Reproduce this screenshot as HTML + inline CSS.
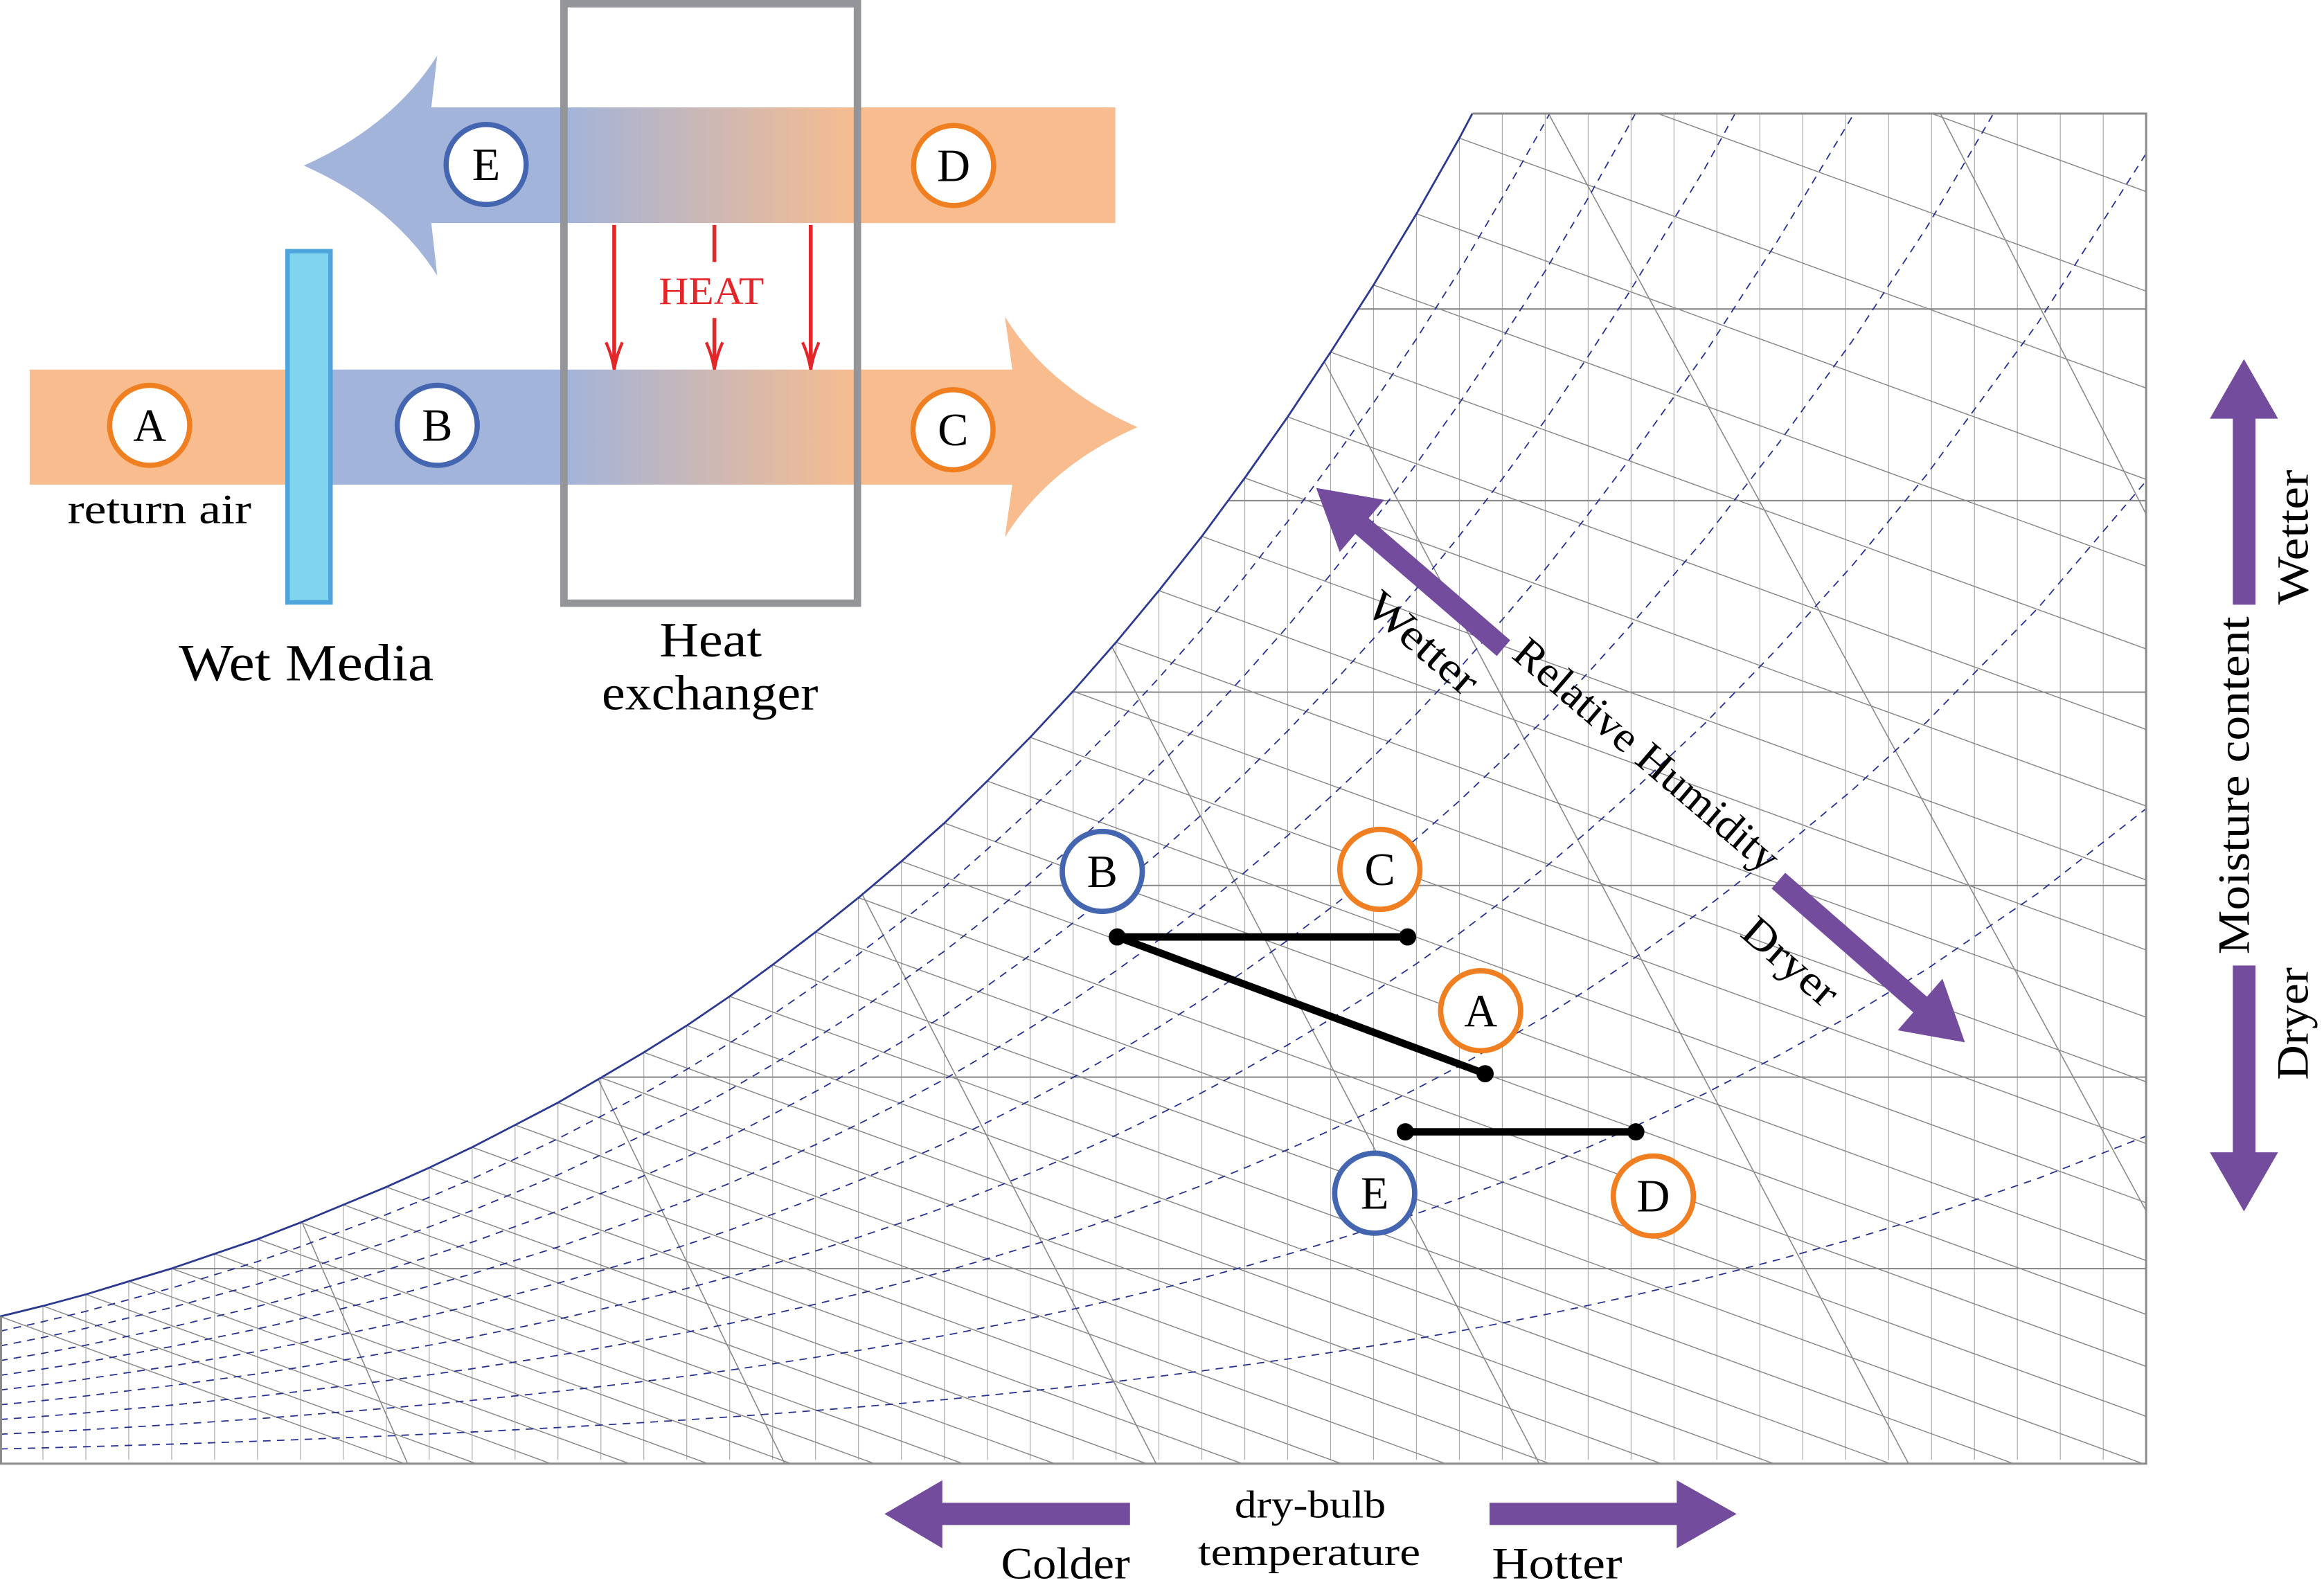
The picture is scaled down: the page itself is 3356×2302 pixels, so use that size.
<!DOCTYPE html>
<html><head><meta charset="utf-8"><style>
html,body{margin:0;padding:0;background:#fff;width:3356px;height:2302px;overflow:hidden;}
svg{display:block;}
text{font-family:"Liberation Serif",serif;fill:#000;}
.rh{fill:none;stroke:#26308f;stroke-width:1.8;stroke-dasharray:11 9;}
</style></head><body>
<svg xmlns="http://www.w3.org/2000/svg" width="3356" height="2302" viewBox="0 0 1568 1075.55" overflow="hidden">
<defs>
<linearGradient id="g1" gradientUnits="userSpaceOnUse" x1="380" y1="0" x2="580" y2="0">
<stop offset="0" stop-color="#a2b4da"/><stop offset="1" stop-color="#f8bc8e"/>
</linearGradient>
<clipPath id="cp"><polygon points="0,888.3 28.96,881.2 57.92,873.4 86.88,864.6 115.84,855.9 144.8,846 173.76,836.1 202.72,824.9 231.68,812.9 260.64,800.9 289.6,787.9 318.56,774.1 347.52,759.1 376.48,744 405.44,727.2 434.4,710.1 463.36,692 492.32,672.3 521.28,651 550.24,628.9 579.2,605.7 608.16,581.2 637.12,555.4 666.08,527 695.04,497.5 724,466.4 752.96,433.4 781.92,398.5 810.88,361.9 839.84,322.5 868.8,281.3 897.76,237.6 926.72,192.3 955.68,144.3 984.64,93.2 993.4,76.6 1448,76.6 1448,987.6 0,987.6"/></clipPath>
</defs>
<rect x="0" y="0" width="1568" height="1075.55" fill="#fff"/>

<!-- ===== Top diagram ===== -->
<path d="M752.5 72.5H291L295 37.5Q265 85 205 111.7Q265 138.5 295 186L291 150.5H752.5Z" fill="url(#g1)"/>
<rect x="20" y="249.4" width="190" height="77.6" fill="#f8bc8e"/>
<path d="M208 249.4H683L678 213.7Q708 262 767.5 288.2Q708 314.5 678 362.5L683 327H208Z" fill="url(#g1)"/>
<rect x="194" y="169.5" width="29" height="237" fill="#81d4f0" stroke="#4ea5dc" stroke-width="3"/>
<rect x="380.5" y="2.5" width="198" height="404.5" fill="none" stroke="#939598" stroke-width="5"/>

<g stroke="#e52629" stroke-width="2.6" fill="none">
<path d="M414.4 151.8V248M482 151.8V176.8M482 214.6V248M547 151.8V248"/>
<path d="M408.9 231Q412.9 240 414.4 249.4Q415.9 240 419.9 231" stroke-width="2"/>
<path d="M476.5 231Q480.5 240 482 249.4Q483.5 240 487.5 231" stroke-width="2"/>
<path d="M541.5 231Q545.5 240 547 249.4Q548.5 240 552.5 231" stroke-width="2"/>
</g>
<text x="480" y="205" font-size="26" text-anchor="middle" textLength="71" lengthAdjust="spacingAndGlyphs" style="fill:#e52629">HEAT</text>

<g stroke-width="3.5" fill="#fff">
<circle cx="101" cy="287" r="27" stroke="#f07f22"/>
<circle cx="295" cy="287" r="27" stroke="#4465b0"/>
<circle cx="643" cy="290" r="27" stroke="#f07f22"/>
<circle cx="328" cy="111" r="27" stroke="#4465b0"/>
<circle cx="643.4" cy="111.7" r="27" stroke="#f07f22"/>
</g>
<g font-size="31" text-anchor="middle">
<text x="101" y="297.5">A</text>
<text x="295" y="297.5">B</text>
<text x="643" y="300.5">C</text>
<text x="328" y="121.5">E</text>
<text x="643.4" y="122.2">D</text>
</g>

<text x="45.6" y="353" font-size="28" textLength="124" lengthAdjust="spacingAndGlyphs">return air</text>
<text x="120.6" y="459" font-size="35" textLength="172" lengthAdjust="spacingAndGlyphs">Wet Media</text>
<text x="479.5" y="443" font-size="33" text-anchor="middle" textLength="69" lengthAdjust="spacingAndGlyphs">Heat</text>
<text x="479" y="478.7" font-size="33" text-anchor="middle" textLength="146" lengthAdjust="spacingAndGlyphs">exchanger</text>

<!-- ===== Chart ===== -->
<g clip-path="url(#cp)" fill="none">
<path stroke="#aaaaaa" stroke-width="0.55" d="M28.96 60V985M57.92 60V985M86.88 60V985M115.84 60V985M144.8 60V985M173.76 60V985M202.72 60V985M231.68 60V985M260.64 60V985M289.6 60V985M318.56 60V985M347.52 60V985M376.48 60V985M405.44 60V985M434.4 60V985M463.36 60V985M492.32 60V985M521.28 60V985M550.24 60V985M579.2 60V985M608.16 60V985M637.12 60V985M666.08 60V985M695.04 60V985M724 60V985M752.96 60V985M781.92 60V985M810.88 60V985M839.84 60V985M868.8 60V985M897.76 60V985M926.72 60V985M955.68 60V985M984.64 60V985M1013.6 60V985M1042.56 60V985M1071.52 60V985M1100.48 60V985M1129.44 60V985M1158.4 60V985M1187.36 60V985M1216.32 60V985M1245.28 60V985M1274.24 60V985M1303.2 60V985M1332.16 60V985M1361.12 60V985M1390.08 60V985M1419.04 60V985"/>
<path stroke="#8c8c8c" stroke-width="1" d="M0 208.5H1448M0 337.8H1448M0 467H1448M0 597.5H1448M0 726.8H1448M0 856H1448"/>
<path stroke="#8a8a8a" stroke-width="0.7" d="M0 888.3l284.9 103.7M28.96 881.2l304.4 110.8M57.92 873.4l325.8 118.6M86.88 864.6l350 127.4M115.84 855.9l373.9 136.1M144.8 846l401.1 146M173.76 836.1l428.3 155.9M202.72 824.9l459.1 167.1M231.68 812.9l492 179.1M260.64 800.9l525 191.1M289.6 787.9l560.7 204.1M318.56 774.1l598.6 217.9M347.52 759.1l639.8 232.9M376.48 744l681.3 248M405.44 727.2l727.5 264.8M434.4 710.1l774.5 281.9M463.36 692l824.2 300M492.32 672.3l878.3 319.7M521.28 651l928.72 338.1M550.24 628.9l899.76 327.5M579.2 605.7l870.8 317M608.16 581.2l841.84 306.4M637.12 555.4l812.88 295.9M666.08 527l783.92 285.3M695.04 497.5l754.96 274.8M724 466.4l726 264.3M752.96 433.4l697.04 253.7M781.92 398.5l668.08 243.2M810.88 361.9l639.12 232.6M839.84 322.5l610.16 222.1M868.8 281.3l581.2 211.6M897.76 237.6l552.24 201M926.72 192.3l523.28 190.5M955.68 144.3l494.32 179.9M984.64 93.2l465.36 169.4M1013.6 38.4l436.4 158.8M1042.56 -18.3l407.44 148.3"/>
<path stroke="#8a8a8a" stroke-width="0.75" d="M203.7 824.5L276.5 991M403.8 728.6L531.1 991M582 604L781.8 991M750 436L1040.3 991M893.5 244L1289.5 991M1035.7 60L1448 817M1300.7 60L1448 347"/>
<g>
<path class="rh" vector-effect="non-scaling-stroke" transform="matrix(1 0 0 0.1 0 888.84)" d="M0 888.3L28.96 881.2 57.92 873.4 86.88 864.6 115.84 855.9 144.8 846 173.76 836.1 202.72 824.9 231.68 812.9 260.64 800.9 289.6 787.9 318.56 774.1 347.52 759.1 376.48 744 405.44 727.2 434.4 710.1 463.36 692 492.32 672.3 521.28 651 550.24 628.9 579.2 605.7 608.16 581.2 637.12 555.4 666.08 527 695.04 497.5 724 466.4 752.96 433.4 781.92 398.5 810.88 361.9 839.84 322.5 868.8 281.3 897.76 237.6 926.72 192.3 955.68 144.3 984.64 93.2 1013.6 38.4 1042.56 -18.3 1071.5 -79.8 1100 -143.2 1150 -260.3 1200 -389.4 1250 -528.2 1300 -680.9 1375 -936.8 1448 -1222.4"/>
<path class="rh" vector-effect="non-scaling-stroke" transform="matrix(1 0 0 0.2 0 790.08)" d="M0 888.3L28.96 881.2 57.92 873.4 86.88 864.6 115.84 855.9 144.8 846 173.76 836.1 202.72 824.9 231.68 812.9 260.64 800.9 289.6 787.9 318.56 774.1 347.52 759.1 376.48 744 405.44 727.2 434.4 710.1 463.36 692 492.32 672.3 521.28 651 550.24 628.9 579.2 605.7 608.16 581.2 637.12 555.4 666.08 527 695.04 497.5 724 466.4 752.96 433.4 781.92 398.5 810.88 361.9 839.84 322.5 868.8 281.3 897.76 237.6 926.72 192.3 955.68 144.3 984.64 93.2 1013.6 38.4 1042.56 -18.3 1071.5 -79.8 1100 -143.2 1150 -260.3 1200 -389.4 1250 -528.2 1300 -680.9 1375 -936.8 1448 -1222.4"/>
<path class="rh" vector-effect="non-scaling-stroke" transform="matrix(1 0 0 0.3 0 691.32)" d="M0 888.3L28.96 881.2 57.92 873.4 86.88 864.6 115.84 855.9 144.8 846 173.76 836.1 202.72 824.9 231.68 812.9 260.64 800.9 289.6 787.9 318.56 774.1 347.52 759.1 376.48 744 405.44 727.2 434.4 710.1 463.36 692 492.32 672.3 521.28 651 550.24 628.9 579.2 605.7 608.16 581.2 637.12 555.4 666.08 527 695.04 497.5 724 466.4 752.96 433.4 781.92 398.5 810.88 361.9 839.84 322.5 868.8 281.3 897.76 237.6 926.72 192.3 955.68 144.3 984.64 93.2 1013.6 38.4 1042.56 -18.3 1071.5 -79.8 1100 -143.2 1150 -260.3 1200 -389.4 1250 -528.2 1300 -680.9 1375 -936.8 1448 -1222.4"/>
<path class="rh" vector-effect="non-scaling-stroke" transform="matrix(1 0 0 0.4 0 592.56)" d="M0 888.3L28.96 881.2 57.92 873.4 86.88 864.6 115.84 855.9 144.8 846 173.76 836.1 202.72 824.9 231.68 812.9 260.64 800.9 289.6 787.9 318.56 774.1 347.52 759.1 376.48 744 405.44 727.2 434.4 710.1 463.36 692 492.32 672.3 521.28 651 550.24 628.9 579.2 605.7 608.16 581.2 637.12 555.4 666.08 527 695.04 497.5 724 466.4 752.96 433.4 781.92 398.5 810.88 361.9 839.84 322.5 868.8 281.3 897.76 237.6 926.72 192.3 955.68 144.3 984.64 93.2 1013.6 38.4 1042.56 -18.3 1071.5 -79.8 1100 -143.2 1150 -260.3 1200 -389.4 1250 -528.2 1300 -680.9 1375 -936.8 1448 -1222.4"/>
<path class="rh" vector-effect="non-scaling-stroke" transform="matrix(1 0 0 0.5 0 493.8)" d="M0 888.3L28.96 881.2 57.92 873.4 86.88 864.6 115.84 855.9 144.8 846 173.76 836.1 202.72 824.9 231.68 812.9 260.64 800.9 289.6 787.9 318.56 774.1 347.52 759.1 376.48 744 405.44 727.2 434.4 710.1 463.36 692 492.32 672.3 521.28 651 550.24 628.9 579.2 605.7 608.16 581.2 637.12 555.4 666.08 527 695.04 497.5 724 466.4 752.96 433.4 781.92 398.5 810.88 361.9 839.84 322.5 868.8 281.3 897.76 237.6 926.72 192.3 955.68 144.3 984.64 93.2 1013.6 38.4 1042.56 -18.3 1071.5 -79.8 1100 -143.2 1150 -260.3 1200 -389.4 1250 -528.2 1300 -680.9 1375 -936.8 1448 -1222.4"/>
<path class="rh" vector-effect="non-scaling-stroke" transform="matrix(1 0 0 0.6 0 395.04)" d="M0 888.3L28.96 881.2 57.92 873.4 86.88 864.6 115.84 855.9 144.8 846 173.76 836.1 202.72 824.9 231.68 812.9 260.64 800.9 289.6 787.9 318.56 774.1 347.52 759.1 376.48 744 405.44 727.2 434.4 710.1 463.36 692 492.32 672.3 521.28 651 550.24 628.9 579.2 605.7 608.16 581.2 637.12 555.4 666.08 527 695.04 497.5 724 466.4 752.96 433.4 781.92 398.5 810.88 361.9 839.84 322.5 868.8 281.3 897.76 237.6 926.72 192.3 955.68 144.3 984.64 93.2 1013.6 38.4 1042.56 -18.3 1071.5 -79.8 1100 -143.2 1150 -260.3 1200 -389.4 1250 -528.2 1300 -680.9 1375 -936.8 1448 -1222.4"/>
<path class="rh" vector-effect="non-scaling-stroke" transform="matrix(1 0 0 0.7 0 296.28)" d="M0 888.3L28.96 881.2 57.92 873.4 86.88 864.6 115.84 855.9 144.8 846 173.76 836.1 202.72 824.9 231.68 812.9 260.64 800.9 289.6 787.9 318.56 774.1 347.52 759.1 376.48 744 405.44 727.2 434.4 710.1 463.36 692 492.32 672.3 521.28 651 550.24 628.9 579.2 605.7 608.16 581.2 637.12 555.4 666.08 527 695.04 497.5 724 466.4 752.96 433.4 781.92 398.5 810.88 361.9 839.84 322.5 868.8 281.3 897.76 237.6 926.72 192.3 955.68 144.3 984.64 93.2 1013.6 38.4 1042.56 -18.3 1071.5 -79.8 1100 -143.2 1150 -260.3 1200 -389.4 1250 -528.2 1300 -680.9 1375 -936.8 1448 -1222.4"/>
<path class="rh" vector-effect="non-scaling-stroke" transform="matrix(1 0 0 0.8 0 197.52)" d="M0 888.3L28.96 881.2 57.92 873.4 86.88 864.6 115.84 855.9 144.8 846 173.76 836.1 202.72 824.9 231.68 812.9 260.64 800.9 289.6 787.9 318.56 774.1 347.52 759.1 376.48 744 405.44 727.2 434.4 710.1 463.36 692 492.32 672.3 521.28 651 550.24 628.9 579.2 605.7 608.16 581.2 637.12 555.4 666.08 527 695.04 497.5 724 466.4 752.96 433.4 781.92 398.5 810.88 361.9 839.84 322.5 868.8 281.3 897.76 237.6 926.72 192.3 955.68 144.3 984.64 93.2 1013.6 38.4 1042.56 -18.3 1071.5 -79.8 1100 -143.2 1150 -260.3 1200 -389.4 1250 -528.2 1300 -680.9 1375 -936.8 1448 -1222.4"/>
<path class="rh" vector-effect="non-scaling-stroke" transform="matrix(1 0 0 0.9 0 98.76)" d="M0 888.3L28.96 881.2 57.92 873.4 86.88 864.6 115.84 855.9 144.8 846 173.76 836.1 202.72 824.9 231.68 812.9 260.64 800.9 289.6 787.9 318.56 774.1 347.52 759.1 376.48 744 405.44 727.2 434.4 710.1 463.36 692 492.32 672.3 521.28 651 550.24 628.9 579.2 605.7 608.16 581.2 637.12 555.4 666.08 527 695.04 497.5 724 466.4 752.96 433.4 781.92 398.5 810.88 361.9 839.84 322.5 868.8 281.3 897.76 237.6 926.72 192.3 955.68 144.3 984.64 93.2 1013.6 38.4 1042.56 -18.3 1071.5 -79.8 1100 -143.2 1150 -260.3 1200 -389.4 1250 -528.2 1300 -680.9 1375 -936.8 1448 -1222.4"/>
</g>
</g>
<!-- saturation curve -->
<polyline fill="none" stroke="#2b3990" stroke-width="1.3" points="0,888.3 28.96,881.2 57.92,873.4 86.88,864.6 115.84,855.9 144.8,846 173.76,836.1 202.72,824.9 231.68,812.9 260.64,800.9 289.6,787.9 318.56,774.1 347.52,759.1 376.48,744 405.44,727.2 434.4,710.1 463.36,692 492.32,672.3 521.28,651 550.24,628.9 579.2,605.7 608.16,581.2 637.12,555.4 666.08,527 695.04,497.5 724,466.4 752.96,433.4 781.92,398.5 810.88,361.9 839.84,322.5 868.8,281.3 897.76,237.6 926.72,192.3 955.68,144.3 984.64,93.2 993.4,76.6"/>
<!-- border -->
<path fill="none" stroke="#8a8a8a" stroke-width="1.4" d="M0.7 888.3V987.6H1448V76.6H993.4"/>

<!-- process lines -->
<g stroke="#000" stroke-width="5" fill="none">
<path d="M753.8 632.2H949.7M753.8 632.2L1002 724.5M948.2 763.7H1103.7"/>
</g>
<g fill="#000">
<circle cx="753.8" cy="632.2" r="5.8"/>
<circle cx="949.7" cy="632.2" r="5.8"/>
<circle cx="1002" cy="724.5" r="5.8"/>
<circle cx="948.2" cy="763.7" r="5.8"/>
<circle cx="1103.7" cy="763.7" r="5.8"/>
</g>

<g stroke-width="3.6" fill="#fff">
<circle cx="743.7" cy="588" r="27" stroke="#4465b0"/>
<circle cx="931" cy="586.6" r="27" stroke="#f07f22"/>
<circle cx="999" cy="682" r="27" stroke="#f07f22"/>
<circle cx="927.5" cy="805.1" r="27" stroke="#4465b0"/>
<circle cx="1115.5" cy="807" r="27" stroke="#f07f22"/>
</g>
<g font-size="31" text-anchor="middle">
<text x="743.7" y="598.5">B</text>
<text x="931" y="597.1">C</text>
<text x="999" y="692.5">A</text>
<text x="927.5" y="815.6">E</text>
<text x="1115.5" y="817.5">D</text>
</g>

<!-- purple arrows -->
<g fill="#744c9e">
<polygon points="1018.95,431.98 923.45,349.58 933.9,337.3 888,329.2 903.9,372.5 914.35,360.22 1009.85,442.62"/>
<polygon points="1204.5,588.9 1300.1,672.5 1310.6,660.4 1325.7,703.3 1280.4,695.2 1290.9,683.1 1195.3,599.5"/>
<polygon points="1506.5,408 1506.5,282.5 1491,282.5 1514,242.3 1537,282.5 1521.8,282.5 1521.8,408"/>
<polygon points="1506.5,651.5 1506.5,777.5 1491,777.5 1514,817.4 1537,777.5 1521.8,777.5 1521.8,651.5"/>
<polygon points="762.4,1014 635.8,1014 635.8,998.8 596.8,1021.5 635.8,1044.7 635.8,1029 762.4,1029"/>
<polygon points="1005,1014 1131.3,1014 1131.3,998.8 1171.7,1021.5 1131.3,1044.7 1131.3,1029 1005,1029"/>
</g>

<!-- chart labels -->
<text transform="translate(960,434) rotate(41)" text-anchor="middle" dominant-baseline="central" font-size="29" textLength="90" lengthAdjust="spacingAndGlyphs">Wetter</text>
<text transform="translate(1111,509.5) rotate(40.5)" text-anchor="middle" dominant-baseline="central" font-size="29" textLength="226" lengthAdjust="spacingAndGlyphs">Relative Humidity</text>
<text transform="translate(1208,649) rotate(41)" text-anchor="middle" dominant-baseline="central" font-size="29" textLength="76" lengthAdjust="spacingAndGlyphs">Dryer</text>

<text transform="translate(1517.3,530) rotate(-90)" text-anchor="middle" font-size="30" textLength="228" lengthAdjust="spacingAndGlyphs">Moisture content</text>
<text transform="translate(1557,362.5) rotate(-90)" text-anchor="middle" font-size="30" textLength="91" lengthAdjust="spacingAndGlyphs">Wetter</text>
<text transform="translate(1557,690.7) rotate(-90)" text-anchor="middle" font-size="30" textLength="76" lengthAdjust="spacingAndGlyphs">Dryer</text>

<text x="675.4" y="1065" font-size="30" textLength="87" lengthAdjust="spacingAndGlyphs">Colder</text>
<text x="1006.5" y="1065" font-size="30" textLength="88" lengthAdjust="spacingAndGlyphs">Hotter</text>
<text x="884" y="1024" font-size="26" text-anchor="middle" textLength="102" lengthAdjust="spacingAndGlyphs">dry-bulb</text>
<text x="883.3" y="1056" font-size="26" text-anchor="middle" textLength="150" lengthAdjust="spacingAndGlyphs">temperature</text>
</svg>
</body></html>
